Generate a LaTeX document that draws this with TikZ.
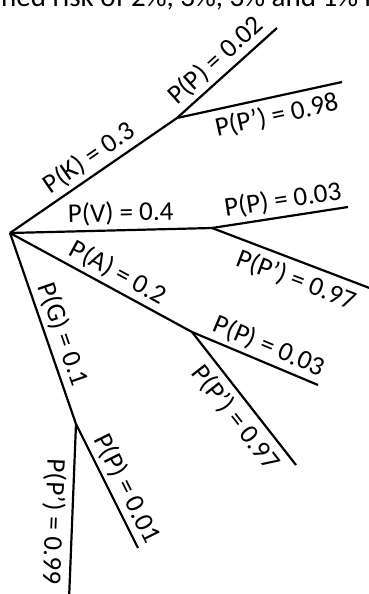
\documentclass[tikz,border=0pt]{standalone}
\usepackage{fontspec}
\newfontfamily\calfont{Carlito}
\begin{document}
\begin{tikzpicture}[x=1pt,y=-1pt,
  br/.style={line width=2.2pt},
  lab/.style={font=\calfont\fontsize{27}{32}\selectfont, inner sep=4pt, sloped},
  labb/.style={lab, inner sep=6pt}]
\useasboundingbox (0,0) rectangle (369,594);
\fill[white] (0,0) rectangle (369,594);
\clip (0,0) rectangle (369,594);
\node[anchor=base west, inner sep=0, font=\calfont\fontsize{29}{34}\selectfont] (title) at (1,6.5) {ned risk of 2\%, 3\%, 3\% and 1\% r};
% nodes
\coordinate (root) at (10,233);
\coordinate (k) at (177,118);
\coordinate (kp) at (277,28);
\coordinate (kq) at (342,82);
\coordinate (v) at (212,228);
\coordinate (vp) at (348,207);
\coordinate (vq) at (380,292);
\coordinate (a) at (192,332);
\coordinate (ap) at (318,385);
\coordinate (aq) at (296,465);
\coordinate (g) at (76,424);
\coordinate (gp) at (138,548);
\coordinate (gq) at (69,600);
% branches
\draw[br] (root) -- node[lab, above, pos=0.53] (lk) {P(K) = 0.3} (k);
\draw[br] (k) -- node[lab, above, pos=0.5] (lkp) {P(P) = 0.02} (kp);
\draw[br] (k) -- node[labb, below, pos=0.58] (lkq) {P(P’) = 0.98} (kq);
\draw[br] (root) -- node[lab, above, pos=0.55] (lv) {P(V) = 0.4} (v);
\draw[br] (v) -- node[lab, above, pos=0.54] (lvp) {P(P) = 0.03} (vp);
\draw[br] (v) -- node[labb, below, pos=0.54] (lvq) {P(P’) = 0.97} (vq);
\draw[br] (root) -- node[lab, above, pos=0.55] (la) {P(A) = 0.2} (a);
\draw[br] (a) -- node[lab, above, pos=0.56] (lap) {P(P) = 0.03} (ap);
\draw[br] (a) -- node[labb, below, pos=0.56] (laq) {P(P’) = 0.97} (aq);
\draw[br] (root) -- node[lab, above, pos=0.56] (lg) {P(G) = 0.1} (g);
\draw[br] (g) -- node[lab, above, pos=0.58] (lgp) {P(P) = 0.01} (gp);
\draw[br] (g) -- node[labb, below, allow upside down, pos=0.56] (lgq) {P(P’) = 0.99} (gq);
\end{tikzpicture}
\end{document}
